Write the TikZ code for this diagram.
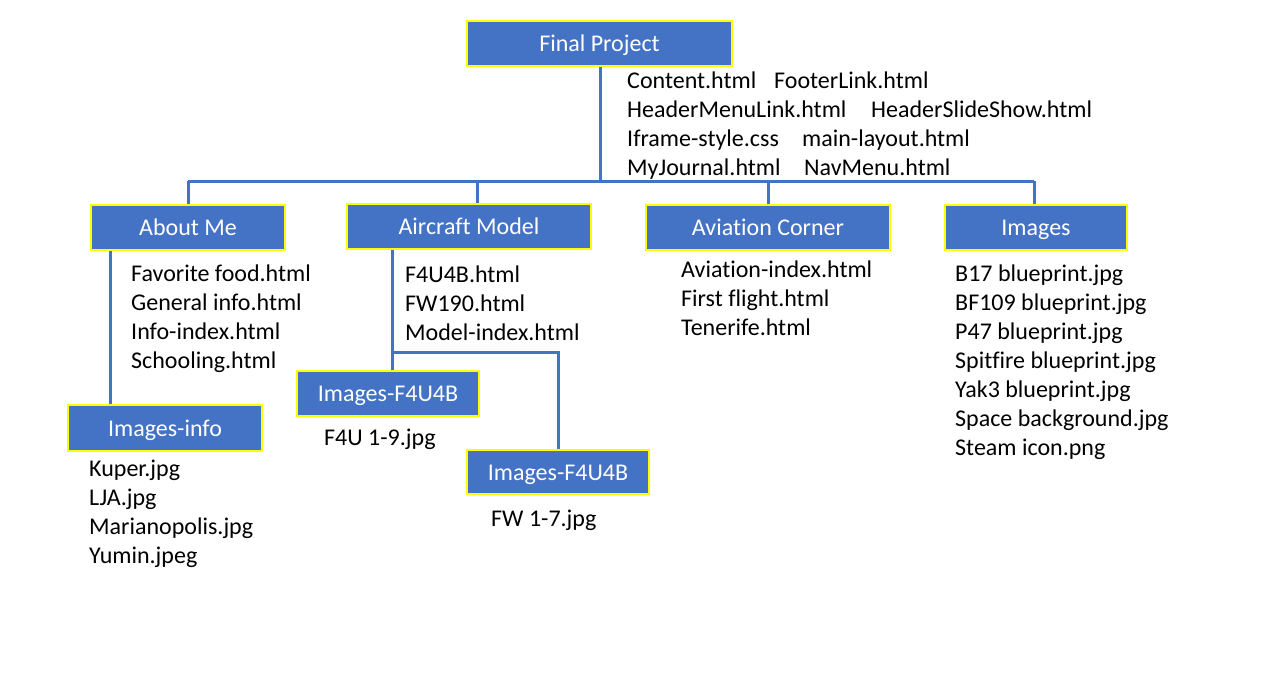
\documentclass[tikz,border=0pt]{standalone}
\usepackage{fontspec}
\setmainfont{Carlito}[Ligatures=NoCommon]
\definecolor{boxblue}{HTML}{4472C4}
\definecolor{boxyellow}{HTML}{FFFF00}
\begin{document}
\begin{tikzpicture}[x=1pt,y=-1pt,
  folder/.style={draw=boxyellow, line width=2pt, fill=boxblue, text=white,
    font=\fontsize{24}{28}\selectfont, inner sep=0pt, text height=16pt, text depth=0pt},
  item/.style={anchor=base west, inner sep=0pt, font=\fontsize{24}{28}\selectfont},
  link/.style={draw=boxblue, line width=3pt}]
\useasboundingbox[fill=white] (0,0) rectangle (1276,697);
% boxes
\node[folder, minimum width=265pt, minimum height=45pt] (fp) at (599.5,43.5) {Final Project};
\node[folder, minimum width=194pt, minimum height=45pt] (am) at (188,227) {About Me};
\node[folder, minimum width=244pt, minimum height=45pt] (ac) at (469,226) {Aircraft Model};
\node[folder, minimum width=244pt, minimum height=45pt] (av) at (768,227) {Aviation Corner};
\node[folder, minimum width=182pt, minimum height=45pt] (im) at (1036,227) {Images};
\node[folder, minimum width=194pt, minimum height=46pt] (ii) at (165,428) {Images-info};
\node[folder, minimum width=182pt, minimum height=45pt] (if1) at (388,393.5) {Images-F4U4B};
\node[folder, minimum width=182pt, minimum height=44pt] (if2) at (558,472) {Images-F4U4B};
% connectors
\coordinate (bus) at (600,181);
\coordinate (busL) at (188,181);
\coordinate (busR) at (1034,181);
\coordinate (acj) at (392,352);
\coordinate (acr) at (558,352);
\draw[link] (fp.south -| bus) -- (bus);
\draw[link] (busL) -- (busR);
\draw[link] (busL) -- (am.north);
\draw[link] (477,181) -- (ac.north -| 477,0);
\draw[link] (768,181) -- (av.north);
\draw[link] (busR) -- (im.north -| busR);
\draw[link] (am.south -| 110,0) -- (ii.north -| 110,0);
\draw[link] (ac.south -| acj) -- (acj) -- (acr) -- (if2.north);
\draw[link] (acj) -- (if1.north -| acj);
% file lists
\node[item] (f1) at (627,88) {Content.html};
\node[item] (f2) at (774,88) {FooterLink.html};
\node[item] (f3) at (627,117) {HeaderMenuLink.html};
\node[item] (f4) at (871,117) {HeaderSlideShow.html};
\node[item] (f5) at (627,146) {Iframe-style.css};
\node[item] (f6) at (802,146) {main-layout.html};
\node[item] (f7) at (627,175) {MyJournal.html};
\node[item] (f8) at (804,175) {NavMenu.html};
\foreach \t [count=\i from 0] in {Favorite food.html, General info.html, Info-index.html, Schooling.html}
  \node[item] (amf-\i) at (131,281+29*\i) {\t};
\foreach \t [count=\i from 0] in {F4U4B.html, FW190.html, Model-index.html}
  \node[item] (acf-\i) at (405,282+29*\i) {\t};
\foreach \t [count=\i from 0] in {Aviation-index.html, First flight.html, Tenerife.html}
  \node[item] (avf-\i) at (681,277+29*\i) {\t};
\foreach \t [count=\i from 0] in {B17 blueprint.jpg, BF109 blueprint.jpg, P47 blueprint.jpg, Spitfire blueprint.jpg, Yak3 blueprint.jpg, Space background.jpg, Steam icon.png}
  \node[item] (imf-\i) at (955,281+29*\i) {\t};
\foreach \t [count=\i from 0] in {Kuper.jpg, LJA.jpg, Marianopolis.jpg, Yumin.jpeg}
  \node[item] (iif-\i) at (89,476+29.3*\i) {\t};
\node[item] (if1f) at (324,445) {F4U 1-9.jpg};
\node[item] (if2f) at (491,526) {FW 1-7.jpg};
\end{tikzpicture}
\end{document}
